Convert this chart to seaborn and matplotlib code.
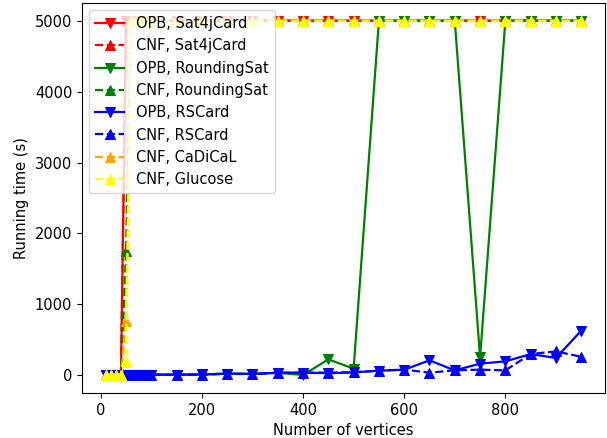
import matplotlib
matplotlib.use("Agg")
import matplotlib.pyplot as plt
import seaborn as sns
import pandas as pd

vertices = [10, 20, 30, 40, 50, 60, 70, 80, 90, 100,
            150, 200, 250, 300, 350, 400, 450, 500, 550, 600,
            650, 700, 750, 800, 850, 900, 950]

T = 5000  # timeout

opb_sat4j = [1, 2, 3, 4] + [T] * 23
cnf_sat4j = [1, 2, 3, 4] + [T] * 23
opb_rsat = [1, 2, 2, 3, 4, 5, 6, 7, 8, 9,
            10, 12, 25, 20, 35, 5, 225, 95, T, T,
            T, T, 255, T, T, T, T]
cnf_rsat = [1, 2, 3, 4, 1750] + [T] * 22
opb_rscard = [1, 2, 2, 3, 4, 5, 6, 7, 8, 9,
              10, 12, 25, 20, 38, 38, 30, 42, 66, 80,
              211, 70, 165, 197, 300, 245, 630]
cnf_rscard = [1, 2, 2, 3, 4, 5, 6, 7, 8, 9,
              8, 10, 20, 18, 35, 38, 38, 42, 66, 80,
              38, 70, 80, 70, 300, 338, 262]
cnf_cadical = [1, 2, 3, 4, 770] + [T] * 22
cnf_glucose = [1, 2, 3, 4, 200] + [T] * 22

series = [
    ("OPB, Sat4jCard", opb_sat4j, "red", "v", "-"),
    ("CNF, Sat4jCard", cnf_sat4j, "red", "^", "--"),
    ("OPB, RoundingSat", opb_rsat, "green", "v", "-"),
    ("CNF, RoundingSat", cnf_rsat, "green", "^", "--"),
    ("OPB, RSCard", opb_rscard, "blue", "v", "-"),
    ("CNF, RSCard", cnf_rscard, "blue", "^", "--"),
    ("CNF, CaDiCaL", cnf_cadical, "orange", "^", "--"),
    ("CNF, Glucose", cnf_glucose, "yellow", "^", "--"),
]

plt.rcParams['font.family'] = ['DejaVu Sans']
plt.rcParams['font.size'] = 10.5
fig = plt.figure(figsize=(6.07, 4.38), dpi=100)
ax = fig.add_axes([82 / 607, 1 - 393 / 438, (605 - 82) / 607, (393 - 3) / 438])

for label, vals, color, marker, ls in series:
    df = pd.DataFrame({"x": vertices, "y": vals})
    sns.lineplot(data=df, x="x", y="y", ax=ax, color=color, marker=marker,
                 linestyle=ls, label=label, markersize=7, markeredgecolor=color,
                 linewidth=1.6, errorbar=None)

ax.set_xlabel("Number of vertices")
ax.set_ylabel("Running time (s)")
ax.set_xticks([0, 200, 400, 600, 800])
ax.set_yticks([0, 1000, 2000, 3000, 4000, 5000])
ax.legend(loc="upper left")
fig.savefig("out.png", dpi=100)
